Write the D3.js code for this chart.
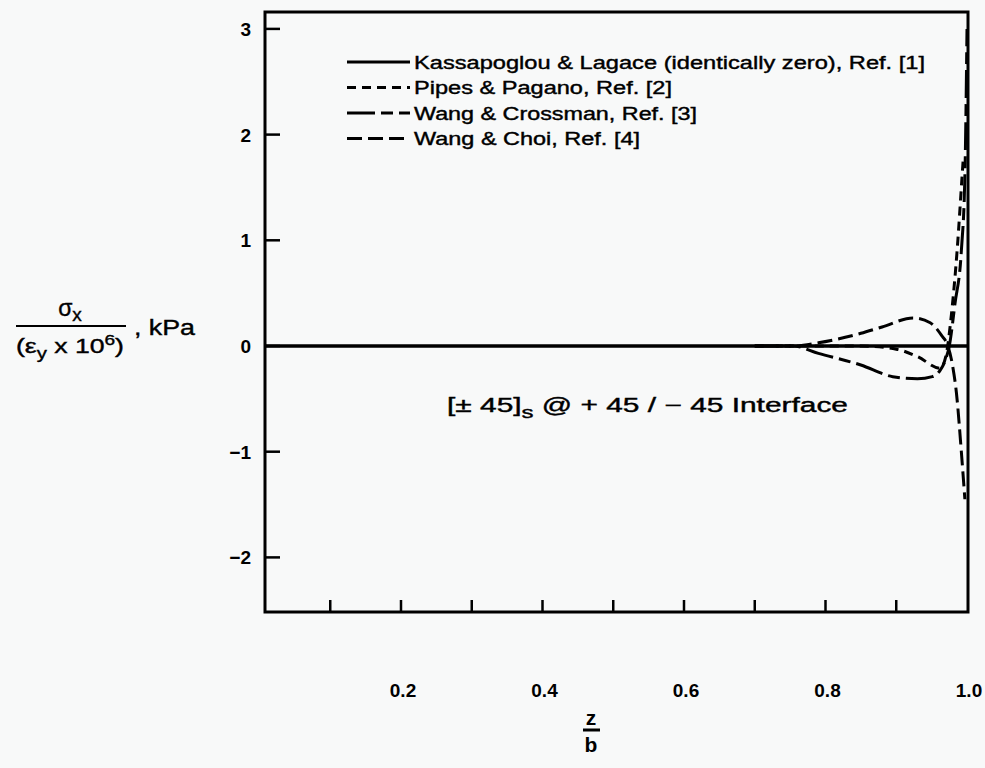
<!DOCTYPE html>
<html>
<head>
<meta charset="utf-8">
<script src="https://cdn.jsdelivr.net/npm/d3@7"></script>
<style>
  html, body { margin: 0; padding: 0; background: #f8f9f9; }
  svg { display: block; }
  text { font-family: "Liberation Sans", Arial, Helvetica, sans-serif; fill: #000; }
</style>
</head>
<body>
<div id="chart"></div>
<script>
// z/b positions and sigma values for each curve
const kassZ = [0, 1.0];
const kassV = [0, 0];

const pipesZ = [0.70, 0.85, 0.90, 0.93, 0.962, 0.970, 0.978, 0.986, 0.993, 0.995];
const pipesV = [0, 0, -0.03, -0.10, -0.21, -0.10, 0.30, 0.90, 1.60, 1.80];

const crossZ = [0.70, 0.754, 0.79, 0.85, 0.895, 0.93, 0.951, 0.962, 0.969, 0.975, 0.983, 0.992, 0.997, 1.0];
const crossV = [0, 0, -0.07, -0.18, -0.29, -0.31, -0.29, -0.23, -0.14, 0, 0.40, 0.90, 1.60, 3.0];

const choiZ = [0.70, 0.754, 0.79, 0.85, 0.88, 0.924, 0.948, 0.964, 0.973, 0.980, 0.985, 0.992, 0.997];
const choiV = [0, 0, 0.03, 0.12, 0.18, 0.265, 0.22, 0.10, 0, -0.20, -0.44, -1.0, -1.45];

const legendLabels = [
    "Kassapoglou & Lagace (identically zero), Ref. [1]",
    "Pipes & Pagano, Ref. [2]",
    "Wang & Crossman, Ref. [3]",
    "Wang & Choi, Ref. [4]"
];
const xTickLabels = [0.2, 0.4, 0.6, 0.8, 1.0];
const xMinorTicks = [0.1, 0.3, 0.5, 0.7, 0.9];
const yTicks = [-2, -1, 0, 1, 2, 3];

const W = 985, H = 768;
// frame
const fr = {left: 265, top: 12, right: 968, bottom: 612};

const svg = d3.select("#chart").append("svg")
    .attr("width", W).attr("height", H);

const x = d3.scaleLinear().domain([0, 1.0]).range([259.5, 967]);
const y = d3.scaleLinear().domain([0, 1]).range([346, 240.3]);

// dash styles per series
const styles = [
    {dash: null, width: 3.5},
    {dash: "9,6", width: 3},
    {dash: "28,6,12,6", width: 3},
    {dash: "15,6", width: 3}
];

svg.append("clipPath").attr("id", "clip")
  .append("rect")
    .attr("x", fr.left).attr("y", fr.top)
    .attr("width", fr.right - fr.left).attr("height", fr.bottom - fr.top);

// frame
svg.append("rect")
    .attr("x", fr.left).attr("y", fr.top)
    .attr("width", fr.right - fr.left).attr("height", fr.bottom - fr.top)
    .attr("fill", "none").attr("stroke", "#000").attr("stroke-width", 3);

// y ticks (inward)
svg.append("g").selectAll("line").data(yTicks).join("line")
    .attr("x1", fr.left).attr("x2", fr.left + 15)
    .attr("y1", d => y(d)).attr("y2", d => y(d))
    .attr("stroke", "#000").attr("stroke-width", 2.5);

svg.append("g").selectAll("text").data(yTicks).join("text")
    .attr("x", 251).attr("y", d => y(d) + 7)
    .attr("text-anchor", "end")
    .attr("font-size", 19).attr("font-weight", "bold")
    .text(d => d < 0 ? "\u2212" + Math.abs(d) : d);

// x ticks (inward)
svg.append("g").selectAll("line").data(xTickLabels.concat(xMinorTicks).filter(d => d < 1)).join("line")
    .attr("x1", d => x(d)).attr("x2", d => x(d))
    .attr("y1", fr.bottom).attr("y2", fr.bottom - 12)
    .attr("stroke", "#000").attr("stroke-width", 2.5);

svg.append("g").selectAll("text").data(xTickLabels).join("text")
    .attr("x", d => x(d) + 2).attr("y", 697)
    .attr("text-anchor", "middle")
    .attr("font-size", 19).attr("font-weight", "bold")
    .text(d => d.toFixed(1));

// curves
const series = [
    {z: kassZ, v: kassV},
    {z: pipesZ, v: pipesV},
    {z: crossZ, v: crossV},
    {z: choiZ, v: choiV}
];

const line = d3.line()
    .x(d => x(d[0]))
    .y(d => y(d[1]))
    .curve(d3.curveMonotoneX);

const plot = svg.append("g").attr("clip-path", "url(#clip)");
series.forEach((s, i) => {
    plot.append("path")
        .datum(d3.zip(s.z, s.v))
        .attr("fill", "none")
        .attr("stroke", "#000")
        .attr("stroke-width", styles[i].width)
        .attr("stroke-dasharray", styles[i].dash)
        .attr("d", line);
});

// legend
const legY = [62, 87.5, 113, 138.5];
const legTextLen = [511, 258, 283, 226];
const leg = svg.append("g");
legendLabels.forEach((lab, i) => {
    leg.append("line")
        .attr("x1", 347).attr("x2", 410)
        .attr("y1", legY[i]).attr("y2", legY[i])
        .attr("stroke", "#000").attr("stroke-width", 3)
        .attr("stroke-dasharray", styles[i].dash);
    leg.append("text")
        .attr("x", 414).attr("y", legY[i] + 6.5)
        .attr("font-size", 18)
        .attr("stroke", "#000").attr("stroke-width", 0.4)
        .attr("textLength", legTextLen[i])
        .attr("lengthAdjust", "spacingAndGlyphs")
        .text(lab);
});

// annotation
const ann = svg.append("text")
    .attr("x", 447).attr("y", 412)
    .attr("font-size", 20)
    .attr("stroke", "#000").attr("stroke-width", 0.4)
    .attr("textLength", 401)
    .attr("lengthAdjust", "spacingAndGlyphs");
ann.append("tspan").text("[\u00b1 45]");
ann.append("tspan").attr("font-size", 16).attr("dy", 6).text("s");
ann.append("tspan").attr("dy", -6).text(" @ + 45 / \u2212 45 Interface");

// x axis label z/b
svg.append("text").attr("x", 591).attr("y", 725)
    .attr("text-anchor", "middle").attr("font-size", 21).attr("font-weight", "bold").text("z");
svg.append("line").attr("x1", 583).attr("x2", 600).attr("y1", 730).attr("y2", 730)
    .attr("stroke", "#000").attr("stroke-width", 3);
svg.append("text").attr("x", 591).attr("y", 752)
    .attr("text-anchor", "middle").attr("font-size", 21).attr("font-weight", "bold").text("b");

// y axis label
const num = svg.append("text").attr("x", 70).attr("y", 316)
    .attr("text-anchor", "middle").attr("font-size", 23)
    .attr("stroke", "#000").attr("stroke-width", 0.4);
num.append("tspan").text("\u03c3");
num.append("tspan").attr("font-size", 19).attr("dy", 5).text("x");

svg.append("line").attr("x1", 16).attr("x2", 126).attr("y1", 326).attr("y2", 326)
    .attr("stroke", "#000").attr("stroke-width", 2);

const den = svg.append("text").attr("x", 70).attr("y", 353)
    .attr("text-anchor", "middle").attr("font-size", 21)
    .attr("stroke", "#000").attr("stroke-width", 0.4)
    .attr("textLength", 108)
    .attr("lengthAdjust", "spacingAndGlyphs");
den.append("tspan").text("(\u03b5");
den.append("tspan").attr("font-size", 16).attr("dy", 6).text("y");
den.append("tspan").attr("dy", -6).text(" x 10");
den.append("tspan").attr("font-size", 15).attr("dy", -8).text("6");
den.append("tspan").attr("dy", 8).text(")");

svg.append("text").attr("x", 134).attr("y", 335)
    .attr("font-size", 22)
    .attr("stroke", "#000").attr("stroke-width", 0.4)
    .attr("textLength", 61)
    .attr("lengthAdjust", "spacingAndGlyphs")
    .text(", kPa");
</script>
</body>
</html>
